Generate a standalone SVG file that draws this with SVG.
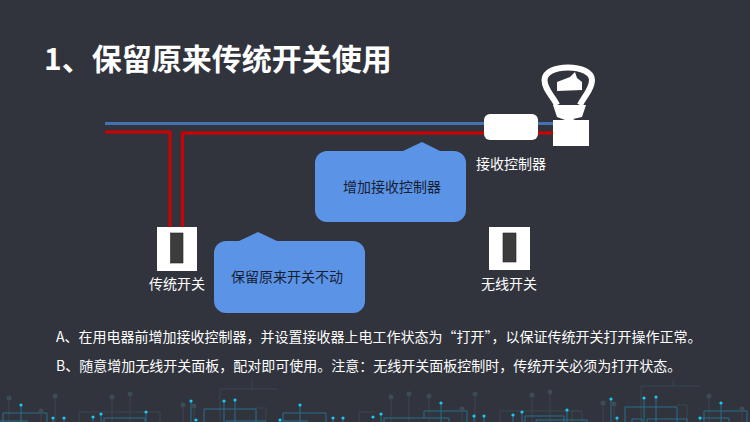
<svg xmlns="http://www.w3.org/2000/svg" width="750" height="422" viewBox="0 0 750 422">
<style>
text{font-family:"Noto Sans CJK SC","Liberation Sans",sans-serif}
.lbl{font-size:14px;fill:#fff;text-anchor:middle}
.dk{font-size:14px;fill:#172033;text-anchor:middle}
.body{font-size:14px;fill:#fff}
.call{fill:#5b94e6}
.sw{fill:#fff}
.sl{fill:#3c3c3c;stroke:#222;stroke-width:.6}
.wr{fill:none;stroke:#d00000;stroke-width:3}
.wb{fill:none;stroke:#4472b4;stroke-width:3}
.c1{fill:none;stroke:#2b6f8c;stroke-width:1}
.c2{fill:none;stroke:#394751;stroke-width:1}
.d1{fill:#1cc8f5}
.d2{fill:#3c4b54}
</style>
<rect width="750" height="422" fill="#31343d"/>
<g id="circuit-decor">
<path class="c2" d="M9 398V422M55 396V422M41 411V422M112 397V422M130 394V422M183 405V422M194 406V422M391 397V422M409 394V422M429 396V422M462 409V422M475 394V422M532 395V422M550 392V422M603 403V422M614 404V422M709 396V422M742 409V422"/>
<path class="c2" d="M79 422V412H160V422M220 422V389H278M252 380V389M256 408H266V422M359 422V412H375M500 422V411H582M572 422V411H582V422M641 422V386H699M673 380V386M677 405H687V422"/>
<path class="c1" d="M3 422V413H47V422M0 421H28M104 422V418H145V422M204 422V409H256V422M226 422V421H266M283 422V413H326V422M283 421H308M384 422V418H449V422M424 418V411H467V422M525 422V416H564V422M536 422V420H587V422M625 422V407H677V422M632 422V419H642V422M647 422V419H687V422M704 422V411H747V422M700 421V418H729V422"/>
<path class="c1" d="M21 405V422M53 418V422M64 418V422M93 417V422M101 414V422M146 412V422M191 401V422M224 401V422M235 400V422M300 405V422M333 418V422M343 418V422M381 414V422M441 403V422M474 416V422M484 416V422M513 415V422M522 412V422M567 410V422M611 399V422M617 418V422M644 398V422M656 397V422M721 403V422"/>
<g class="d2"><circle cx="9" cy="398" r="2.500"/><circle cx="55" cy="396" r="2.500"/><circle cx="41" cy="411" r="2.500"/><circle cx="112" cy="397" r="2.500"/><circle cx="130" cy="394" r="2.500"/><circle cx="183" cy="405" r="2.500"/><circle cx="194" cy="406" r="2.500"/><circle cx="391" cy="397" r="2.500"/><circle cx="409" cy="394" r="2.500"/><circle cx="429" cy="396" r="2.500"/><circle cx="462" cy="409" r="2.500"/><circle cx="475" cy="394" r="2.500"/><circle cx="532" cy="395" r="2.500"/><circle cx="550" cy="392" r="2.500"/><circle cx="603" cy="403" r="2.500"/><circle cx="614" cy="404" r="2.500"/><circle cx="709" cy="396" r="2.500"/><circle cx="742" cy="409" r="2.500"/></g>
<g class="d1"><circle cx="21" cy="405" r="1.600"/><circle cx="53" cy="418" r="1.600"/><circle cx="64" cy="418" r="1.600"/><circle cx="93" cy="417" r="1.600"/><circle cx="101" cy="414" r="1.600"/><circle cx="146" cy="412" r="1.600"/><circle cx="191" cy="401" r="1.600"/><circle cx="196" cy="420" r="1.600"/><circle cx="224" cy="401" r="1.600"/><circle cx="235" cy="400" r="1.600"/><circle cx="280" cy="420" r="1.600"/><circle cx="300" cy="405" r="1.600"/><circle cx="333" cy="418" r="1.600"/><circle cx="343" cy="418" r="1.600"/><circle cx="373" cy="417" r="1.600"/><circle cx="381" cy="414" r="1.600"/><circle cx="441" cy="403" r="1.600"/><circle cx="474" cy="416" r="1.600"/><circle cx="484" cy="416" r="1.600"/><circle cx="513" cy="415" r="1.600"/><circle cx="522" cy="412" r="1.600"/><circle cx="567" cy="410" r="1.600"/><circle cx="611" cy="399" r="1.600"/><circle cx="617" cy="418" r="1.600"/><circle cx="644" cy="398" r="1.600"/><circle cx="656" cy="397" r="1.600"/><circle cx="700" cy="418" r="1.600"/><circle cx="721" cy="403" r="1.600"/></g>
</g>
<text x="44" y="70" font-size="30" font-weight="700" fill="#fff">1、保留原来传统开关使用</text>
<g id="connectors">
<path class="wb" d="M105 123.500H556"/>
<path class="wr" d="M105 132H170V228M182.500 228V133H556"/>
</g>
<g id="controller">
<rect x="484" y="114" width="54" height="26" rx="6" fill="#fff"/>
<text class="lbl" x="511" y="169">接收控制器</text>
</g>
<g id="lamp">
<path d="M557 105C553 96 544.500 90 544.500 80C544.500 72 555 67.500 568 67.500C581 67.500 592 72 592 80C592 90 584 96 580 105" fill="none" stroke="#fff" stroke-width="6"/>
<path d="M557 82L570 77L575 72L577 78L582 82L582 90L557 91Z" fill="#fff"/>
<path d="M553 105H586L582 117L573 119L575 120H589V146H553V120H565L557 117Z" fill="#fff"/>
</g>
<g id="switch-traditional">
<rect class="sw" x="157" y="227" width="40" height="44"/>
<rect class="sl" x="170.500" y="233" width="12.500" height="30"/>
<text class="lbl" x="177" y="289">传统开关</text>
</g>
<g id="switch-wireless">
<rect class="sw" x="489" y="227" width="41" height="43"/>
<rect class="sl" x="503" y="233" width="13" height="29"/>
<text class="lbl" x="509" y="289">无线开关</text>
</g>
<g id="callout-receiver">
<path class="call" d="M327 151H403L422 142L440 151H454A12 12 0 0 1 466 163V210A12 12 0 0 1 454 222H327A12 12 0 0 1 315 210V163A12 12 0 0 1 327 151Z"/>
<text class="dk" x="392" y="192">增加接收控制器</text>
</g>
<g id="callout-keep">
<path class="call" d="M226 241H239L258 232L277 241H353A12 12 0 0 1 365 253V301A12 12 0 0 1 353 313H226A12 12 0 0 1 214 301V253A12 12 0 0 1 226 241Z"/>
<text class="dk" x="287" y="282">保留原来开关不动</text>
</g>
<text class="body" x="56" y="342">A、在用电器前增加接收控制器，并设置接收器上电工作状态为“打开”，以保证传统开关打开操作正常。</text>
<text class="body" x="56" y="371">B、随意增加无线开关面板，配对即可使用。注意：无线开关面板控制时，传统开关必须为打开状态。</text>
</svg>
